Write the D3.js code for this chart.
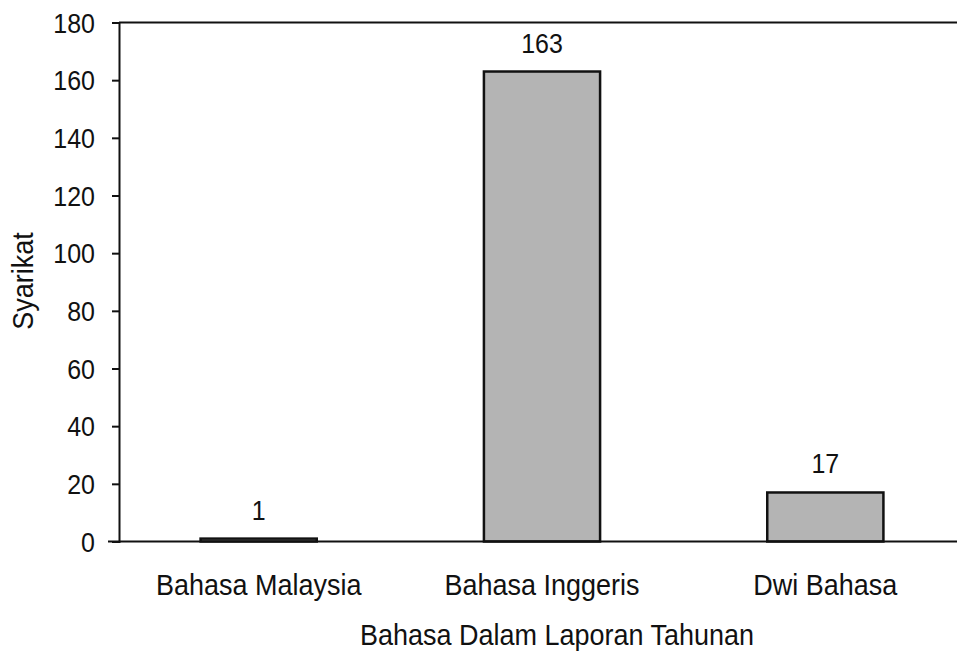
<!DOCTYPE html>
<html lang="en">
<head>
    <meta charset="UTF-8">
    <script src="https://cdn.jsdelivr.net/npm/d3@7"></script>
    <title>Bahasa Dalam Laporan Tahunan</title>
    <style>
        body { margin: 0; background: #fff; }
        text { font-family: Arial, "Liberation Sans", sans-serif; fill: #111; }
    </style>
</head>
<body>
<script>
let categories = ["Bahasa Malaysia", "Bahasa Inggeris", "Dwi Bahasa"]
let values = [1, 163, 17]
let yTicks = [0, 20, 40, 60, 80, 100, 120, 140, 160, 180]

let width = 957
let height = 654
let plotLeft = 119, plotTop = 22.5, plotBottom = 541.5
let stretch = 1.12   // scanned text is a bit taller than it is wide

let svg = d3.select("body").append("svg")
    .attr("width", width)
    .attr("height", height)

let x = d3.scaleBand()
    .domain(categories)
    .range([117, 967])
    .paddingInner(0.59)
    .paddingOuter(0.295)

let y = d3.scaleLinear()
    .domain([0, 180])
    .range([plotBottom, plotTop])

// helper: text placed at (tx, ty) with vertical stretch
function label(tx, ty, str, size, rot) {
    return svg.append("text")
        .attr("transform", `translate(${tx},${ty})${rot ? " rotate(" + rot + ")" : ""} scale(1,${stretch})`)
        .attr("text-anchor", "middle")
        .style("font-size", size + "px")
        .text(str)
}

// top frame line
svg.append("line")
    .attr("x1", plotLeft).attr("x2", width)
    .attr("y1", plotTop).attr("y2", plotTop)
    .attr("stroke", "#111").attr("stroke-width", 2)

// y axis
let yAxis = svg.append("g")
    .attr("transform", `translate(${plotLeft},0)`)
    .call(d3.axisLeft(y).tickValues(yTicks).tickSize(7).tickPadding(17))
yAxis.select(".domain").attr("stroke", "#111").attr("stroke-width", 2)
yAxis.selectAll(".tick line").attr("stroke", "#111").attr("stroke-width", 2)
yAxis.selectAll(".tick text")
    .attr("dy", "0.34em")
    .attr("transform", `scale(1,${stretch})`)
    .attr("fill", "#111")
    .style("font-size", "25px")
    .style("font-family", "Arial, 'Liberation Sans', sans-serif")

// bars
svg.selectAll("rect.bar")
    .data(values)
    .enter().append("rect")
    .attr("class", "bar")
    .attr("x", (d, i) => x(categories[i]))
    .attr("y", d => y(d))
    .attr("width", x.bandwidth())
    .attr("height", d => y(0) - y(d))
    .attr("fill", "#b4b4b4")
    .attr("stroke", "#111")
    .attr("stroke-width", 2.5)

// x axis line
svg.append("line")
    .attr("x1", 108).attr("x2", width)
    .attr("y1", plotBottom).attr("y2", plotBottom)
    .attr("stroke", "#111").attr("stroke-width", 2)

// value labels
values.forEach((d, i) => {
    label(x(categories[i]) + x.bandwidth() / 2, y(d) - 19, d, 25)
})

// category labels
categories.forEach(c => {
    label(x(c) + x.bandwidth() / 2, 595, c, 27)
})

// axis titles
label(557, 645, "Bahasa Dalam Laporan Tahunan", 27)
label(33, 281, "Syarikat", 27, -90)
</script>
</body>
</html>
